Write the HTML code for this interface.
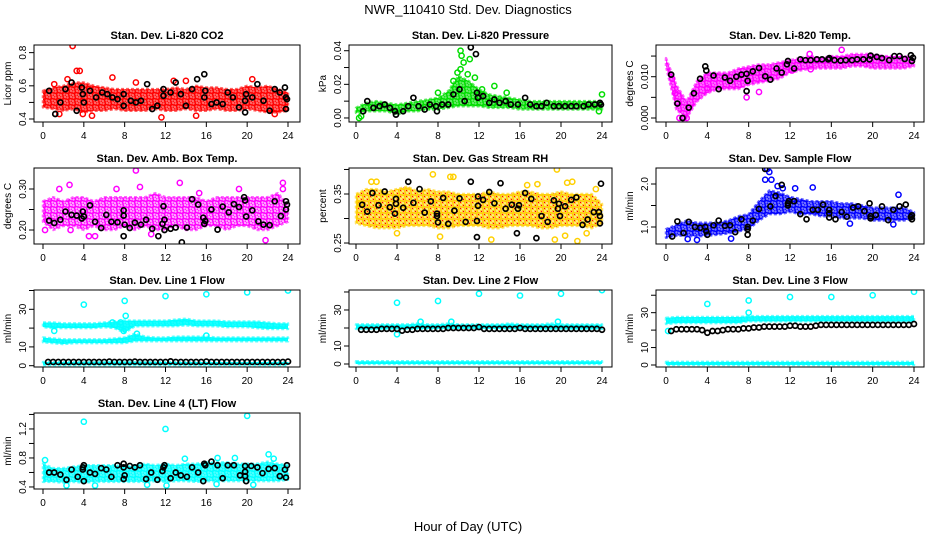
<!DOCTYPE html>
<html><head><meta charset="utf-8"><style>
html,body{margin:0;padding:0;background:#fff;}
svg{display:block;font-family:"Liberation Sans",sans-serif;}
</style></head><body>
<svg id="chart" width="936" height="540" viewBox="0 0 936 540">
<defs id="defs"></defs>
<text x="468" y="14" text-anchor="middle" font-size="13">NWR_110410  Std. Dev. Diagnostics</text>
<text x="468" y="531" text-anchor="middle" font-size="13">Hour of Day (UTC)</text>
</svg>
<script>
const hours=[0,1,2,3,4,5,6,7,8,9,10,11,12,13,14,15,16,17,18,19,20,21,22,23,24];
const lineT=[0.5,1,1.5,2,2.5,3,3.5,4,4.5,5,5.5,6,6.5,7,7.5,8,8.5,9,9.5,10,10.5,11,11.5,12,12.5,13,13.5,14,14.5,15,15.5,16,16.5,17,17.5,18,18.5,19,19.5,20,20.5,21,21.5,22,22.5,23,23.5,24];
const xTicks=[0,4,8,12,16,20,24];

const co2Lo=[0.47,0.46,0.45,0.46,0.44,0.45,0.45,0.46,0.45,0.45,0.45,0.46,0.45,0.45,0.46,0.45,0.45,0.46,0.45,0.45,0.46,0.45,0.44,0.44,0.45];
const co2Hi=[0.57,0.59,0.6,0.62,0.62,0.6,0.59,0.58,0.58,0.58,0.58,0.58,0.58,0.59,0.58,0.6,0.59,0.59,0.58,0.58,0.6,0.59,0.6,0.58,0.56];
const co2Out=[[2.9,0.84],[3.3,0.69],[3.6,0.69],[1.6,0.43],[4.8,0.42],[6.8,0.65],[9.1,0.62],[11.6,0.41],[15,0.42],[20.5,0.64],[22.7,0.43],[14,0.63],[1.1,0.61],[2.4,0.64],[12.8,0.63],[3.9,0.43]];
const co2Blk=[[0.6,0.57],[1.2,0.43],[1.7,0.5],[2.2,0.58],[2.8,0.62],[3.3,0.45],[3.8,0.59],[3.9,0.55],[4,0.5],[4.6,0.57],[5.2,0.53],[5.8,0.56],[6.3,0.55],[6.8,0.53],[7.3,0.52],[7.9,0.55],[7.9,0.48],[8.6,0.51],[9.1,0.5],[9.6,0.51],[10.2,0.61],[10.7,0.46],[11.2,0.48],[11.8,0.54],[11.8,0.58],[12.5,0.56],[13,0.62],[13.5,0.55],[14,0.48],[14.6,0.58],[15.1,0.64],[15.8,0.53],[15.8,0.67],[15.9,0.57],[16.5,0.49],[17,0.5],[17.6,0.49],[18.1,0.56],[18.6,0.53],[19.2,0.47],[19.8,0.51],[19.8,0.44],[19.9,0.55],[20.5,0.53],[21,0.61],[21.6,0.51],[22.2,0.45],[22.7,0.58],[23.2,0.56],[23.7,0.59],[23.8,0.53],[23.8,0.46],[23.9,0.52]];

const presLo=[0.003,0.004,0.004,0.004,0.002,0.004,0.004,0.005,0.005,0.006,0.007,0.007,0.007,0.006,0.006,0.006,0.005,0.005,0.005,0.005,0.005,0.005,0.005,0.005,0.005];
const presHi=[0.006,0.009,0.01,0.009,0.008,0.009,0.01,0.011,0.012,0.016,0.025,0.022,0.017,0.014,0.013,0.012,0.011,0.01,0.01,0.01,0.01,0.01,0.01,0.01,0.01];
const presOut=[[10.2,0.04],[10.3,0.037],[10.5,0.033],[10.2,0.029],[9.9,0.027],[9.5,0.022],[11.1,0.035],[10.9,0.026],[11.6,0.024],[12.3,0.017],[13.5,0.019],[0.3,0],[0.5,0.001],[8,0.015],[24,0.014],[23.7,0.004],[14.7,0.015]];
const presBlk=[[0.7,0.004],[1.1,0.01],[1.7,0.006],[2.3,0.007],[2.8,0.008],[3.3,0.006],[3.8,0.004],[3.9,0.002],[4.6,0.004],[5.1,0.007],[5.6,0.012],[6.1,0.007],[6.7,0.005],[7.2,0.008],[7.8,0.007],[7.9,0.004],[8.4,0.008],[9,0.008],[9.5,0.014],[10.1,0.017],[10.6,0.01],[11.2,0.042],[11.7,0.038],[11.8,0.015],[11.9,0.012],[12.4,0.013],[13,0.009],[13.5,0.011],[14,0.009],[14.6,0.01],[15.1,0.008],[15.8,0.008],[16.5,0.012],[17,0.008],[17.6,0.007],[18.1,0.007],[18.6,0.009],[19.3,0.007],[19.8,0.007],[20.4,0.007],[21,0.007],[21.5,0.007],[22.2,0.007],[22.7,0.008],[23.3,0.008],[23.8,0.009],[23.9,0.008]];

const tempLo=[0.0125,0.002,0.0,0.004,0.006,0.007,0.007,0.007,0.008,0.0085,0.009,0.0095,0.011,0.0115,0.012,0.012,0.012,0.012,0.0125,0.0125,0.012,0.012,0.012,0.012,0.0125];
const tempHi=[0.0145,0.008,0.004,0.009,0.011,0.011,0.011,0.012,0.0125,0.013,0.013,0.0135,0.014,0.0145,0.015,0.0145,0.015,0.015,0.0155,0.0155,0.0155,0.015,0.015,0.015,0.0145];
const tempOut=[[1.3,0],[1.7,0],[2,0],[17,0.0165],[13.9,0.0155],[7.8,0.005],[9,0.0063],[4,0.0072],[12.2,0.0115],[14,0.0118],[0.6,0.0095],[0.9,0.006]];
const tempBlk=[[0.5,0.0105],[1.1,0.0035],[1.6,0],[2.2,0.0025],[2.7,0.006],[3.3,0.0095],[3.8,0.0125],[3.9,0.0115],[4.6,0.0103],[5.1,0.007],[5.7,0.0098],[6.2,0.009],[6.8,0.01],[7.3,0.0105],[7.8,0.0107],[7.8,0.0065],[7.9,0.009],[8.4,0.0113],[9,0.0121],[9.6,0.0101],[10.1,0.0093],[10.7,0.012],[11.2,0.011],[11.7,0.013],[11.8,0.0138],[12.4,0.012],[13,0.0142],[13.5,0.014],[14,0.014],[14.6,0.0142],[15.1,0.0142],[15.7,0.0142],[15.8,0.0145],[16.3,0.014],[16.9,0.0139],[17.4,0.014],[18,0.014],[18.5,0.0142],[19.1,0.0142],[19.7,0.0142],[19.8,0.0151],[20.4,0.0148],[20.9,0.0145],[21.6,0.014],[22.1,0.015],[22.6,0.015],[23.1,0.0143],[23.7,0.0152],[23.8,0.0138],[23.9,0.0146]];

const boxLo=[0.22,0.2,0.21,0.21,0.2,0.21,0.2,0.2,0.21,0.2,0.21,0.2,0.2,0.21,0.2,0.2,0.21,0.21,0.2,0.21,0.21,0.2,0.2,0.21,0.22];
const boxHi=[0.27,0.28,0.27,0.28,0.28,0.27,0.28,0.28,0.28,0.28,0.28,0.29,0.28,0.28,0.28,0.28,0.27,0.28,0.28,0.28,0.28,0.28,0.28,0.29,0.26];
const boxOut=[[9.1,0.345],[1.6,0.3],[2.6,0.31],[4.5,0.185],[5.1,0.185],[7.2,0.3],[9.5,0.305],[13.4,0.315],[15.3,0.29],[21.8,0.175],[23.5,0.315],[23.5,0.3],[19.2,0.3],[0.2,0.2],[2.7,0.2],[10.6,0.19]];
const boxBlk=[[0.6,0.223],[1.1,0.217],[1.7,0.225],[2.2,0.245],[2.8,0.237],[3.3,0.235],[3.8,0.228],[3.9,0.245],[4.0,0.233],[4.6,0.26],[5.1,0.22],[5.7,0.205],[6.2,0.237],[6.7,0.22],[7.3,0.219],[7.9,0.248],[7.9,0.235],[7.9,0.185],[8,0.213],[8.5,0.205],[9,0.218],[9.6,0.213],[10.1,0.225],[10.7,0.203],[11.3,0.185],[11.7,0.215],[11.8,0.258],[11.9,0.2],[11.9,0.225],[12.5,0.203],[13,0.206],[13.6,0.17],[14.1,0.206],[14.6,0.275],[15.2,0.262],[15.7,0.23],[15.8,0.215],[15.9,0.222],[16.5,0.25],[17.1,0.201],[17.6,0.257],[18.2,0.243],[18.7,0.263],[19.2,0.256],[19.7,0.28],[19.8,0.272],[19.9,0.233],[20.5,0.248],[21.1,0.221],[21.6,0.213],[22.2,0.212],[22.7,0.27],[23.3,0.234],[23.8,0.27],[23.8,0.25],[23.9,0.262]];

const rhLo=[0.29,0.285,0.28,0.28,0.28,0.285,0.285,0.285,0.28,0.28,0.285,0.285,0.285,0.28,0.28,0.285,0.285,0.285,0.28,0.28,0.285,0.285,0.285,0.28,0.29];
const rhHi=[0.35,0.36,0.36,0.355,0.36,0.365,0.355,0.36,0.355,0.355,0.35,0.35,0.35,0.355,0.35,0.35,0.355,0.355,0.35,0.35,0.355,0.35,0.35,0.35,0.33];
const rhOut=[[7.5,0.39],[9.2,0.385],[9.5,0.385],[19.6,0.4],[21.1,0.375],[20.6,0.373],[4,0.27],[8.2,0.263],[13.2,0.257],[19.4,0.257],[21.6,0.254],[0.4,0.33],[1.5,0.375],[2,0.375],[16.7,0.368],[17.7,0.37],[22.5,0.27],[20.4,0.265],[23.4,0.36]];
const rhBlk=[[0.6,0.328],[1.1,0.314],[1.6,0.352],[2.2,0.327],[2.8,0.355],[3.3,0.323],[3.8,0.31],[3.9,0.34],[3.9,0.33],[4.6,0.322],[5.1,0.375],[5.6,0.332],[6.2,0.36],[6.7,0.312],[7.3,0.335],[7.9,0.31],[7.9,0.305],[8,0.292],[8.5,0.342],[9,0.289],[9.6,0.316],[10.1,0.341],[10.7,0.293],[11.2,0.375],[11.8,0.262],[11.8,0.295],[11.9,0.345],[11.9,0.326],[12.4,0.338],[13,0.354],[13.5,0.331],[14.1,0.372],[14.6,0.32],[15.2,0.328],[15.7,0.27],[15.8,0.32],[15.9,0.327],[16.5,0.352],[17.1,0.34],[17.6,0.26],[18.1,0.305],[18.7,0.293],[19.3,0.337],[19.7,0.32],[19.8,0.33],[19.9,0.305],[20.4,0.325],[21,0.338],[21.5,0.343],[22.1,0.287],[22.6,0.298],[23.2,0.313],[23.7,0.313],[23.8,0.29],[23.8,0.305],[23.9,0.371]];

const flowLo=[0.75,0.8,0.8,0.78,0.8,0.82,0.85,0.9,0.95,1.15,1.3,1.3,1.35,1.3,1.3,1.25,1.25,1.2,1.2,1.2,1.15,1.15,1.15,1.15,1.2];
const flowHi=[0.95,1.05,1.15,1.1,1.1,1.1,1.15,1.25,1.3,1.6,1.85,1.8,1.7,1.65,1.6,1.6,1.6,1.55,1.55,1.5,1.45,1.45,1.45,1.45,1.35];
const flowOut=[[9.8,2.35],[10,2.28],[10.2,2.1],[9.6,2.1],[10.8,1.95],[11.3,1.9],[12.5,1.9],[14.2,1.92],[22.5,1.75],[17.8,1.08],[22,1.06],[2.1,0.72],[3,0.7],[6.3,0.73]];
const flowBlk=[[0.6,0.78],[1.1,1.13],[1.7,0.86],[2.2,1.12],[2.8,1],[3.3,0.98],[3.8,1.0],[3.9,0.9],[4,0.82],[4.6,1.04],[5.1,1.15],[5.7,1.03],[6.2,1.04],[6.7,0.88],[7.3,1.18],[7.9,1.0],[7.9,0.95],[7.9,0.82],[8.4,1.15],[9,1.42],[9.6,2.35],[10.1,1.48],[10.6,1.72],[11.2,1.98],[11.8,1.5],[11.8,1.55],[11.9,1.6],[12.4,1.6],[13,1.3],[13.6,1.18],[14.2,1.4],[14.7,1.4],[15.2,1.52],[15.8,1.22],[15.8,1.32],[15.8,1.4],[16.4,1.18],[17,1.35],[17.5,1.24],[18.1,1.45],[18.6,1.48],[19.2,1.37],[19.7,1.55],[19.8,1.25],[19.8,1.2],[20.3,1.28],[20.9,1.48],[21.5,1.16],[22,1.4],[22.6,1.48],[23.2,1.52],[23.7,1.23],[23.8,1.18],[23.8,1.27]];

const l1UpLo=[20.5,20,20,20,20,20,20.5,20,17.5,21,21,21,21,21,21.5,21,21,21,20.5,20.5,20.5,20,19.5,19.5,19.5];
const l1UpHi=[23,23,22.5,22.5,22.5,22.5,23,23.5,24,24,24,24,24,24.5,25,24,24,24,23.5,23.5,23.5,23.5,23,22.5,22.5];
const l1MidLo=[12.5,12,11.5,12,12,12,12,12,12,13,13,13,13,13,13,13,13,13,13,13,13,13,13,13,13];
const l1MidHi=[15,14.5,14,14,14,14,14,14.5,15,17,15.5,15,15,15.5,15.5,15.5,15.5,15,15,15,15,15,15,15,15];
const l1BotLo=[0.3,0.3,0.3,0.3,0.3,0.3,0.3,0.3,0.3,0.3,0.3,0.3,0.3,0.3,0.3,0.3,0.3,0.3,0.3,0.3,0.3,0.3,0.3,0.3,0.3];
const l1BotHi=[2,2,2,2,2,2,2,2,2,2,2,2,2,2,2,2,2,2,2,2,2,2,2,2,2];
const l1Out=[[4,32.5],[8,34.5],[12,37],[16,38],[20,39],[24,40],[8.1,26.5],[7.9,18.5],[7.6,23],[9.2,17],[1.1,18.5],[16,16],[6.8,23]];
const l1Blk=[2,2,2,2,2,2,2,2,2,2,2,2,2.2,2,2,2,2,2.2,2,2,2,2,2,2,2.3,2,2,2,2,2,2,2.2,2,2,2,2,2,2,2,2,2,2,2,2,2,2,2,2.2];

const l2UpLo=[19.5,19.5,19.5,19.5,19.5,19.5,19.5,19.5,19.5,19.5,19.5,19.5,19.5,19.5,19.5,19.5,19.5,19.5,19.5,19.5,19.5,19.5,19.5,19.5,19.5];
const l2UpHi=[22,22,22,22,22,22,22.5,22,22,22.5,22,22,22,22,22,22.5,22,22,22,22.5,22,22,22,22,22];
const l2BotLo=[0,0,0,0,0,0,0,0,0,0,0,0,0,0,0,0,0,0,0,0,0,0,0,0,0];
const l2BotHi=[1.5,1.5,1.5,1.5,1.5,1.5,1.5,1.5,1.5,1.5,1.5,1.5,1.5,1.5,1.5,1.5,1.5,1.5,1.5,1.5,1.5,1.5,1.5,1.5,1.5];
const l2Out=[[4,34],[8,35],[12,39],[16,38],[20,39],[24,41],[6.3,23.5],[9.3,23.5],[19.7,23.5],[4,16.5]];
const l2Blk=[19,19,19,19,19.5,19.5,19.5,19.5,18.5,19,19,19.5,19.5,19.5,19.5,19.5,19.5,20,20,20,20,20,20,20.5,19.5,19.5,19.5,19.5,19.5,19.5,19.5,20,19.5,19.5,19.5,19.5,19.5,19.5,19.5,19.5,19.5,19.5,19.5,19.5,19.5,19.5,19.5,19];

const l3UpLo=[23.5,24,24,24,24,24,24,24,25,25,25,25,25,25,25,25,25,25,25,25,25,25,25,25,25];
const l3UpHi=[27,27.5,27.5,27.5,27.5,27.5,27.5,27.5,28,28,28,28,28,28,28,28,28,28,28,28,28,28,28,28,28];
const l3BotLo=[0,0,0,0,0,0,0,0,0,0,0,0,0,0,0,0,0,0,0,0,0,0,0,0,0];
const l3BotHi=[1.8,1.8,1.8,1.8,1.8,1.8,1.8,1.8,1.8,1.8,1.8,1.8,1.8,1.8,1.8,1.8,1.8,1.8,1.8,1.8,1.8,1.8,1.8,1.8,1.8];
const l3Out=[[4,35],[8,37],[12,39],[16,39],[20,40],[24,42],[8,30],[0.2,19.5]];
const l3Blk=[19.5,20.5,20.5,20.5,20.5,20.5,20,18.5,19.5,19.5,20,20.5,20.5,20.5,21,21,21.5,21.5,22,22,22,22,22,22.5,22.5,22,22,22,22.5,23,23,23,23,23,23,23,23,23,23,23,23,23,23,23,23,23,23,23.5];

const l4Lo=[0.47,0.47,0.46,0.47,0.46,0.47,0.47,0.47,0.47,0.47,0.47,0.48,0.47,0.48,0.48,0.47,0.48,0.48,0.48,0.48,0.48,0.48,0.48,0.48,0.5];
const l4Hi=[0.72,0.66,0.66,0.68,0.7,0.7,0.7,0.7,0.68,0.7,0.72,0.7,0.72,0.7,0.72,0.72,0.74,0.74,0.74,0.72,0.72,0.72,0.75,0.72,0.7];
const l4Out=[[4,1.3],[12,1.2],[20,1.38],[0.2,0.77],[2.3,0.42],[5.1,0.42],[10.2,0.43],[12.1,0.42],[17,0.44],[20.6,0.43],[22.1,0.85],[22.6,0.79],[13.9,0.79],[17.1,0.8],[18.8,0.8]];
const l4Blk=[[0.6,0.6],[1.1,0.6],[1.7,0.57],[2.3,0.5],[2.8,0.64],[3.4,0.54],[3.9,0.64],[3.9,0.67],[4,0.48],[4,0.7],[4.6,0.6],[5.1,0.58],[5.7,0.66],[6.2,0.64],[6.7,0.54],[7.3,0.7],[7.9,0.72],[7.9,0.67],[7.9,0.51],[8,0.56],[8.5,0.69],[9,0.67],[9.5,0.7],[10.1,0.51],[10.6,0.6],[11.2,0.5],[11.7,0.62],[11.8,0.67],[11.9,0.7],[12.5,0.52],[13,0.6],[13.5,0.56],[14.1,0.54],[14.6,0.67],[15.2,0.6],[15.7,0.48],[15.8,0.72],[15.9,0.7],[16.5,0.75],[17.1,0.7],[17.6,0.52],[18.1,0.7],[18.7,0.7],[19.3,0.56],[19.8,0.69],[19.8,0.61],[19.8,0.55],[19.9,0.48],[20.4,0.69],[21,0.67],[21.5,0.59],[22.1,0.65],[22.7,0.66],[23.2,0.55],[23.7,0.64],[23.8,0.53],[23.9,0.7]];

const co2Ticks=[0.4,0.5,0.6,0.7,0.8], co2Labels=["0.4","","0.6","","0.8"];
const presTicks=[0,0.01,0.02,0.03,0.04], presLabels=["0.00","","0.02","","0.04"];
const tempTicks=[0,0.005,0.01,0.015], tempLabels=["0.000","","0.010",""];
const boxTicks=[0.2,0.25,0.3], boxLabels=["0.20","","0.30"];
const rhTicks=[0.25,0.3,0.35,0.4], rhLabels=["0.25","","0.35",""];
const flowTicks=[1.0,1.5,2.0], flowLabels=["1.0","","2.0"];
const lineTicks=[0,10,20,30,40], lineLabels=["0","10","","30",""];
const l4Ticks=[0.4,0.6,0.8,1.0,1.2,1.4], l4Labels=["0.4","","0.8","","1.2",""];

const colL=[34,349,656], colR=[300,612,924], colX0=[43,356,666], colX24=[288,602,914];
const rowT=[45,168,290,413], rowB=[122,244,367,489];
const NS="http://www.w3.org/2000/svg";
const svg=document.getElementById('chart');
const defs=document.getElementById('defs');
function mk(tag,attrs,parent){const e=document.createElementNS(NS,tag);for(const k in attrs)e.setAttribute(k,attrs[k]);(parent||svg).appendChild(e);return e;}

function makePattern(id,bg,bgOp,ring,dot){
  const p=mk('pattern',{id:id,width:6,height:6,patternUnits:'userSpaceOnUse'},defs);
  mk('rect',{x:0,y:0,width:6,height:6,fill:bg,'fill-opacity':bgOp},p);
  [[1.5,1.5],[4.5,4.5]].forEach(c=>{
    mk('circle',{cx:c[0],cy:c[1],r:1.9,fill:'none',stroke:ring,'stroke-width':1.4},p);
    if(dot)mk('circle',{cx:c[0],cy:c[1],r:0.7,fill:dot},p);
  });
}

const panels=[
 {id:'co2',title:'Stan. Dev. Li-820 CO2',yl:'Licor ppm',r:0,c:0,ymin:0.382,ymax:0.846,ticks:co2Ticks,labels:co2Labels,color:'#ff0000',bgOp:0.6,bands:[[co2Lo,co2Hi]],out:co2Out,blk:co2Blk},
 {id:'pressure',title:'Stan. Dev. Li-820 Pressure',yl:'kPa',r:0,c:1,ymin:-0.0024,ymax:0.0434,ticks:presTicks,labels:presLabels,color:'#00dd00',bgOp:0.6,bands:[[presLo,presHi]],out:presOut,blk:presBlk},
 {id:'temp',title:'Stan. Dev. Li-820 Temp.',yl:'degrees C',r:0,c:2,ymin:-0.00097,ymax:0.01768,ticks:tempTicks,labels:tempLabels,color:'#ff00ff',bgOp:0.6,bands:[[tempLo,tempHi]],out:tempOut,blk:tempBlk},
 {id:'box-temp',title:'Stan. Dev. Amb. Box Temp.',yl:'degrees C',r:1,c:0,ymin:0.1659,ymax:0.3512,ticks:boxTicks,labels:boxLabels,color:'#ff00ff',bgOp:0.35,bands:[[boxLo,boxHi]],out:boxOut,blk:boxBlk},
 {id:'rh',title:'Stan. Dev. Gas Stream RH',yl:'percent',r:1,c:1,ymin:0.248,ymax:0.403,ticks:rhTicks,labels:rhLabels,color:'#ffd000',dot:'#ff0000',bgOp:0.5,bands:[[rhLo,rhHi]],out:rhOut,blk:rhBlk},
 {id:'sample-flow',title:'Stan. Dev. Sample Flow',yl:'ml/min',r:1,c:2,ymin:0.605,ymax:2.372,ticks:flowTicks,labels:flowLabels,color:'#0000ff',bgOp:0.55,bands:[[flowLo,flowHi]],out:flowOut,blk:flowBlk},
 {id:'line1',title:'Stan. Dev. Line 1 Flow',yl:'ml/min',r:2,c:0,ymin:-0.69,ymax:40.27,ticks:lineTicks,labels:lineLabels,color:'#00ffff',bgOp:0.9,bands:[[l1UpLo,l1UpHi],[l1MidLo,l1MidHi],[l1BotLo,l1BotHi]],out:l1Out,blkLine:l1Blk},
 {id:'line2',title:'Stan. Dev. Line 2 Flow',yl:'ml/min',r:2,c:1,ymin:-1.67,ymax:41.1,ticks:lineTicks,labels:lineLabels,color:'#00ffff',bgOp:0.9,bands:[[l2UpLo,l2UpHi],[l2BotLo,l2BotHi]],out:l2Out,blkLine:l2Blk},
 {id:'line3',title:'Stan. Dev. Line 3 Flow',yl:'ml/min',r:2,c:2,ymin:-1.15,ymax:43,ticks:lineTicks,labels:lineLabels,color:'#00ffff',bgOp:0.9,bands:[[l3UpLo,l3UpHi],[l3BotLo,l3BotHi]],out:l3Out,blkLine:l3Blk},
 {id:'line4',title:'Stan. Dev. Line 4 (LT) Flow',yl:'ml/min',r:3,c:0,ymin:0.372,ymax:1.42,ticks:l4Ticks,labels:l4Labels,color:'#00ffff',bgOp:0.7,bands:[[l4Lo,l4Hi]],out:l4Out,blk:l4Blk}
];

panels.forEach(p=>{
  makePattern('pat-'+p.id,p.color,p.bgOp,p.color,p.dot);
  const L=colL[p.c],R=colR[p.c],T=rowT[p.r],B=rowB[p.r];
  const xs=h=>colX0[p.c]+h*(colX24[p.c]-colX0[p.c])/24;
  const ys=v=>B-(v-p.ymin)/(p.ymax-p.ymin)*(B-T);
  const g=mk('g',{});
  
  
  const cp=mk('clipPath',{id:'clip-'+p.id},g);
  mk('rect',{x:L,y:T,width:R-L,height:B-T},cp);
  const plot=mk('g',{'clip-path':'url(#clip-'+p.id+')'},g);
  
  
  p.bands.forEach((b,bi)=>{
    const lo=b[0],hi=b[1];let pts=[];
    hours.forEach((h,i)=>pts.push(xs(h)+','+ys(hi[i])));
    for(let i=hours.length-1;i>=0;i--)pts.push(xs(hours[i])+','+ys(lo[i]));
    const poly=mk('polygon',{points:pts.join(' '),fill:'url(#pat-'+p.id+')',stroke:p.color,'stroke-width':2.5,'stroke-opacity':0.6,'stroke-dasharray':'3 2','stroke-linejoin':'round'},plot);
    
    
  });
  p.out.forEach(o=>{
    const c=mk('circle',{cx:xs(o[0]),cy:ys(o[1]),r:2.6,fill:'none',stroke:p.color,'stroke-width':1.5},plot);
    
    
  });
  if(p.blk){p.blk.forEach(o=>{
    const c=mk('circle',{cx:xs(o[0]),cy:ys(o[1]),r:2.5,fill:'none',stroke:'#000','stroke-width':1.7},plot);
    
    
  });}
  if(p.blkLine){p.blkLine.forEach((v,i)=>{
    const c=mk('circle',{cx:xs(lineT[i]),cy:ys(v),r:2.5,fill:'none',stroke:'#000','stroke-width':1.7},plot);
    
    
  });}
  const fr=mk('rect',{x:L,y:T,width:R-L,height:B-T,fill:'none',stroke:'#000','stroke-width':1},g);
  
  
  const t=mk('text',{x:(L+R)/2,y:T-6,'text-anchor':'middle','font-size':11,'font-weight':'bold'},g);
  t.textContent=p.title;
  
  
  xTicks.forEach(h=>{
    mk('line',{x1:xs(h),x2:xs(h),y1:B,y2:B+5,stroke:'#000'},g);
    const tx=mk('text',{x:xs(h),y:B+17,'text-anchor':'middle','font-size':10},g);
    tx.textContent=h;
    
    
  });
  p.ticks.forEach((v,i)=>{
    mk('line',{x1:L-5,x2:L,y1:ys(v),y2:ys(v),stroke:'#000'},g);
    if(p.labels[i]){
      const ty=mk('text',{x:L-8,y:ys(v),'text-anchor':'middle','font-size':10,transform:'rotate(-90 '+(L-8)+' '+ys(v)+')'},g);
      ty.textContent=p.labels[i];
      
      
    }
  });
  const yc=(T+B)/2;
  const yt=mk('text',{x:L-23,y:yc,'text-anchor':'middle','font-size':10,transform:'rotate(-90 '+(L-23)+' '+yc+')'},g);
  yt.textContent=p.yl;
  
  
});
</script>
</body></html>
